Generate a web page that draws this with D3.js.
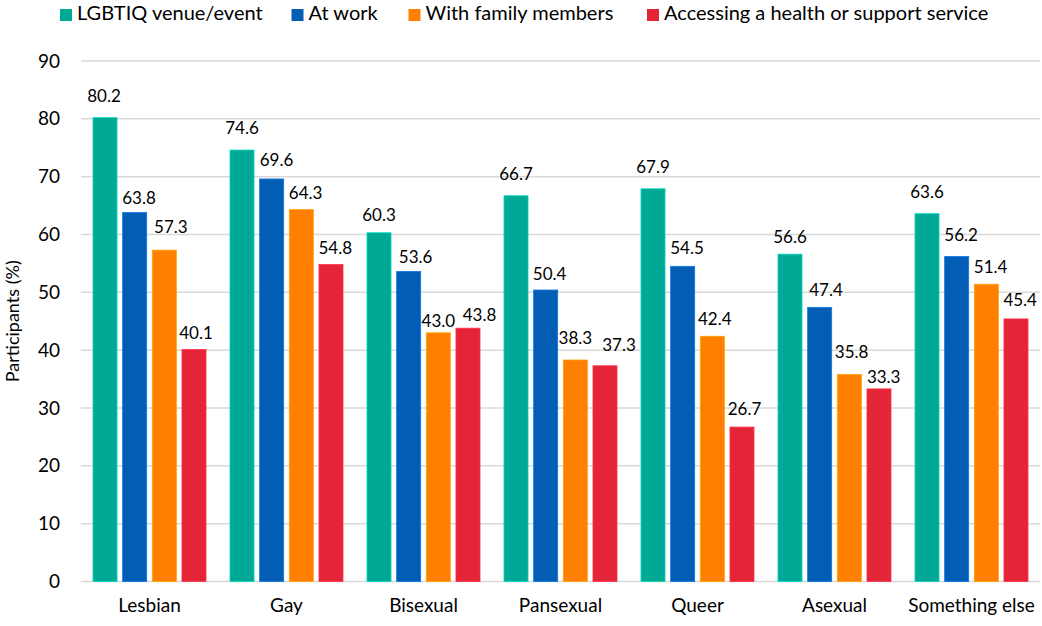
<!DOCTYPE html>
<html>
<head>
<meta charset="utf-8">
<script src="https://cdn.jsdelivr.net/npm/d3@7"></script>
<style>
  html, body { margin: 0; padding: 0; background: #fff; }
  svg { display: block; font-family: Lato, "Open Sans", sans-serif; }
</style>
</head>
<body>
<svg id="chart" width="1042" height="626"></svg>
<script>
var categories = ["Lesbian", "Gay", "Bisexual", "Pansexual", "Queer", "Asexual", "Something else"];
var seriesNames = ["LGBTIQ venue/event", "At work", "With family members", "Accessing a health or support service"];
var venueEvent = [80.2, 74.6, 60.3, 66.7, 67.9, 56.6, 63.6];
var atWork = [63.8, 69.6, 53.6, 50.4, 54.5, 47.4, 56.2];
var withFamily = [57.3, 64.3, 43.0, 38.3, 42.4, 35.8, 51.4];
var healthService = [40.1, 54.8, 43.8, 37.3, 26.7, 33.3, 45.4];
var yTicks = [0, 10, 20, 30, 40, 50, 60, 70, 80, 90];

// label placement nudges (px), one row per series, as hand-placed in the original
var labelShiftX = [
  [-1, 0, 0, 0, 0, 0, 0],
  [4.3, 4.8, 7, 4, 4.3, 6.3, 4.5],
  [6.5, 4.3, 0, 0, 2.4, 2.3, 4.3],
  [2, 4.3, 11.5, 14, 2.5, 4.7, 4.2]
];
var labelGap = [
  [15.6, 15.7, 11.6, 16, 15.7, 10.7, 15.7],
  [8.4, 13, 8.4, 10, 12.7, 11, 15],
  [16.7, 11, 6, 16, 11, 16, 11.6],
  [10.7, 10.7, 6.7, 15, 11.6, 6, 13.3]
];

var colors = ["#00a896", "#045db5", "#ff7f00", "#e42537"];
var seriesValues = [venueEvent, atWork, withFamily, healthService];

var svg = d3.select("#chart");
var margin = { top: 61, right: 2, bottom: 44.5, left: 81 };
var width = +svg.attr("width") - margin.left - margin.right,
    height = +svg.attr("height") - margin.top - margin.bottom;

var x0 = d3.scaleBand().domain(categories).range([0, width]);
var x1 = d3.scaleBand().domain(d3.range(seriesNames.length))
    .range([12, x0.bandwidth() - 12]).paddingInner(0.19);
var y = d3.scaleLinear().domain([0, 90]).range([height, 0]);

var g = svg.append("g").attr("transform", "translate(" + margin.left + "," + margin.top + ")");

// gridlines
g.append("g").selectAll("line")
  .data(yTicks)
  .enter().append("line")
  .attr("x1", 0).attr("x2", width)
  .attr("y1", function (d) { return y(d); })
  .attr("y2", function (d) { return y(d); })
  .attr("stroke", "#d9d9d9")
  .attr("stroke-width", 1.5);

// y axis labels
var yAxis = g.append("g").call(d3.axisLeft(y).tickValues(yTicks).tickSize(0).tickPadding(21));
yAxis.select(".domain").remove();
yAxis.selectAll("text").attr("font-size", 19).attr("fill", "#000").attr("font-family", "Lato, sans-serif");

// x axis labels
var xAxis = g.append("g").attr("transform", "translate(0," + height + ")")
  .call(d3.axisBottom(x0).tickSize(0).tickPadding(17));
xAxis.select(".domain").remove();
xAxis.selectAll("text").attr("font-size", 19).attr("fill", "#000").attr("font-family", "Lato, sans-serif");

// bars
var groups = g.append("g").selectAll("g")
  .data(categories)
  .enter().append("g")
  .attr("transform", function (d) { return "translate(" + x0(d) + ",0)"; });

function cells(d, i) {
  return seriesValues.map(function (s, k) { return { k: k, i: i, v: s[i] }; });
}

groups.selectAll("rect")
  .data(cells)
  .enter().append("rect")
  .attr("x", function (d) { return x1(d.k); })
  .attr("width", x1.bandwidth())
  .attr("y", function (d) { return y(d.v); })
  .attr("height", function (d) { return height - y(d.v); })
  .attr("fill", function (d) { return colors[d.k]; })
  .attr("stroke", function (d) { return d3.color(colors[d.k]).brighter(0.7); })
  .attr("stroke-width", 0.8);

groups.selectAll("text")
  .data(cells)
  .enter().append("text")
  .attr("x", function (d) { return x1(d.k) + x1.bandwidth() / 2 + labelShiftX[d.k][d.i]; })
  .attr("y", function (d) { return y(d.v) - labelGap[d.k][d.i]; })
  .attr("text-anchor", "middle")
  .attr("font-size", 17)
  .attr("fill", "#000")
  .text(function (d) { return d3.format(".1f")(d.v); });

// y axis title
svg.append("text")
  .attr("transform", "translate(19," + (margin.top + height / 2) + ") rotate(-90)")
  .attr("text-anchor", "middle")
  .attr("font-size", 18)
  .attr("fill", "#000")
  .text("Participants (%)");

// legend
var legendX = [60, 291.5, 408.5, 647];
var legend = svg.append("g").selectAll("g")
  .data(seriesNames)
  .enter().append("g")
  .attr("transform", function (d, i) { return "translate(" + legendX[i] + ",9)"; });
legend.append("rect")
  .attr("width", 12).attr("height", 12)
  .attr("fill", function (d, i) { return colors[i]; });
legend.append("text")
  .attr("x", 17).attr("y", 11)
  .attr("font-size", 20)
  .attr("fill", "#000")
  .text(function (d) { return d; });
</script>
</body>
</html>
